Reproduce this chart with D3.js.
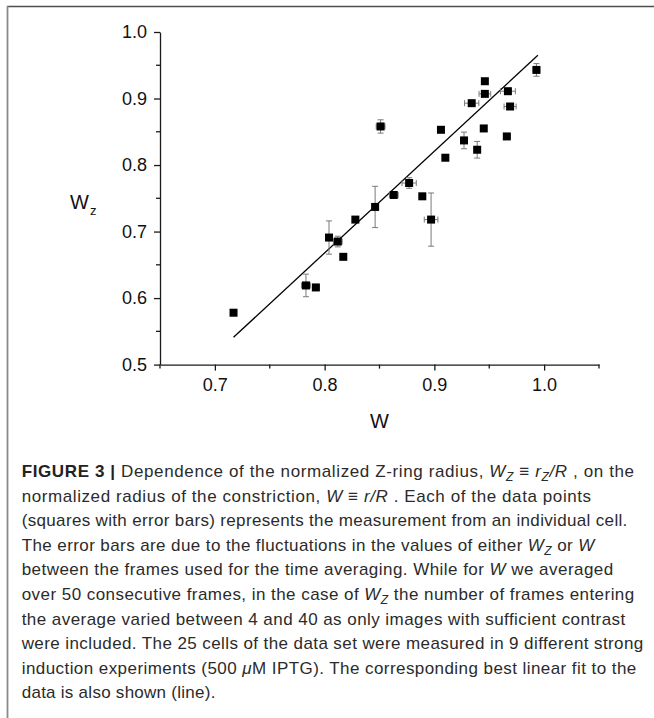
<!DOCTYPE html>
<html>
<head>
<meta charset="utf-8">
<script src="https://cdn.jsdelivr.net/npm/d3@7"></script>
<style>
  body { margin: 0; background: #fff; }
  svg { display: block; }
</style>
</head>
<body>
<div id="chart"></div>
<script>
// data
var w_vals  = [0.717, 0.783, 0.792, 0.804, 0.812, 0.817, 0.828, 0.846, 0.851, 0.863, 0.877, 0.889, 0.897,
               0.906, 0.910, 0.927, 0.934, 0.939, 0.945, 0.946, 0.946, 0.966, 0.967, 0.969, 0.993];
var wz_vals = [0.578, 0.619, 0.616, 0.691, 0.685, 0.662, 0.718, 0.737, 0.858, 0.755, 0.773, 0.753, 0.718,
               0.853, 0.811, 0.837, 0.893, 0.823, 0.855, 0.907, 0.926, 0.843, 0.911, 0.888, 0.943];
var w_err   = [0, 0.004, 0.003, 0.003, 0.004, 0, 0, 0, 0.004, 0.004, 0.0065, 0, 0.0062,
               0, 0, 0.003, 0.0065, 0, 0, 0.0053, 0, 0.003, 0.0068, 0.0055, 0.003];
var wz_err  = [0, 0.017, 0.003, 0.025, 0.008, 0, 0, 0.031, 0.010, 0.003, 0.008, 0, 0.040,
               0, 0, 0.0125, 0.003, 0.0125, 0, 0.003, 0, 0.003, 0.004, 0.003, 0.0095];
var fit_w  = [0.717, 0.9943];
var fit_wz = [0.541, 0.965];

var x_major = [0.7, 0.8, 0.9, 1.0];
var x_minor = [0.65, 0.75, 0.85, 0.95, 1.05];
var y_major = [0.5, 0.6, 0.7, 0.8, 0.9, 1.0];
var y_minor = [0.55, 0.65, 0.75, 0.85, 0.95];

// caption lines: [text, style] pieces  (b bold, i italic, s italic subscript)
var caption = [
  [["FIGURE 3 | ", "b"], ["Dependence of the normalized Z-ring radius, ", ""], ["W", "i"], ["Z", "s"], [" \u2261 ", ""], ["r", "i"], ["Z", "s"], ["/R", "i"], [" , on the", ""]],
  [["normalized radius of the constriction, ", ""], ["W", "i"], [" \u2261 ", ""], ["r/R", "i"], [" . Each of the data points", ""]],
  [["(squares with error bars) represents the measurement from an individual cell.", ""]],
  [["The error bars are due to the fluctuations in the values of either ", ""], ["W", "i"], ["Z", "s"], [" or ", ""], ["W", "i"]],
  [["between the frames used for the time averaging. While for ", ""], ["W", "i"], [" we averaged", ""]],
  [["over 50 consecutive frames, in the case of ", ""], ["W", "i"], ["Z", "s"], [" the number of frames entering", ""]],
  [["the average varied between 4 and 40 as only images with sufficient contrast", ""]],
  [["were included. The 25 cells of the data set were measured in 9 different strong", ""]],
  [["induction experiments (500 ", ""], ["\u03bc", "i"], ["M IPTG). The corresponding best linear fit to the", ""]],
  [["data is also shown (line).", ""]]
];
var caption_widths = [613, 570, 606, 573, 592, 613, 604, 622, 615, 194];

var width = 654;
var height = 718;
var font = "'Liberation Sans', Arial, sans-serif";
var color_axis = "#1a1a1a";
var color_err = "#7a7a7a";
var color_text = "#2b2b2b";

var svg = d3.select("#chart").append("svg")
  .attr("width", width)
  .attr("height", height);

// frame
svg.append("line")
  .attr("x1", 7).attr("x2", width).attr("y1", 6.5).attr("y2", 6.5)
  .style("stroke", "#4d4d4d").style("stroke-width", 1.6);
svg.append("line")
  .attr("x1", 7.5).attr("x2", 7.5).attr("y1", 6).attr("y2", height)
  .style("stroke", "#8a8a8a").style("stroke-width", 1.8);

var x_scale = d3.scaleLinear().domain([0.65, 1.05]).range([160, 599]);
var y_scale = d3.scaleLinear().domain([0.5, 1.0]).range([364.6, 32]);

// axes
var x_axis = svg.append("g")
  .attr("transform", "translate(0," + y_scale(0.5) + ")")
  .call(d3.axisBottom(x_scale).tickValues(x_major).tickSize(6).tickPadding(8).tickSizeOuter(0)
    .tickFormat(d3.format(".1f")));
x_axis.append("g").selectAll("line").data(x_minor).join("line")
  .attr("x1", d => x_scale(d)).attr("x2", d => x_scale(d))
  .attr("y1", 0).attr("y2", 4);

var y_axis = svg.append("g")
  .attr("transform", "translate(" + x_scale(0.65) + ",0)")
  .call(d3.axisLeft(y_scale).tickValues(y_major).tickSize(6).tickPadding(7).tickSizeOuter(0)
    .tickFormat(d3.format(".1f")));
y_axis.append("g").selectAll("line").data(y_minor).join("line")
  .attr("x1", 0).attr("x2", -4)
  .attr("y1", d => y_scale(d)).attr("y2", d => y_scale(d));

svg.selectAll(".domain, .tick line, g line")
  .style("stroke", color_axis)
  .style("stroke-width", 1.3);
svg.selectAll(".tick text")
  .style("font-family", font)
  .style("font-size", "18px")
  .style("fill", "#111");

// axis titles
svg.append("text")
  .attr("x", x_scale(0.85)).attr("y", 428)
  .style("text-anchor", "middle")
  .style("font-family", font).style("font-size", "20px").style("fill", "#111")
  .text("W");

var ylab = svg.append("text")
  .attr("x", 70).attr("y", 209)
  .style("font-family", font).style("font-size", "20px").style("fill", "#111");
ylab.append("tspan").text("W");
ylab.append("tspan").attr("dx", 1).attr("dy", 6).style("font-size", "13px").text("z");

// fit line
svg.append("line")
  .attr("x1", x_scale(fit_w[0])).attr("y1", y_scale(fit_wz[0]))
  .attr("x2", x_scale(fit_w[1])).attr("y2", y_scale(fit_wz[1]))
  .style("stroke", "#000").style("stroke-width", 1.3);

// error bars
var cap = 3;
var pts = w_vals.map((w, i) => ({ w: w, wz: wz_vals[i], ew: w_err[i], ez: wz_err[i] }));
var eb = svg.append("g").style("stroke", color_err).style("stroke-width", 1).style("fill", "none");
pts.forEach(function(d) {
  var cx = x_scale(d.w), cy = y_scale(d.wz);
  if (d.ez > 0) {
    var y1 = y_scale(d.wz + d.ez), y2 = y_scale(d.wz - d.ez);
    eb.append("line").attr("x1", cx).attr("x2", cx).attr("y1", y1).attr("y2", y2);
    eb.append("line").attr("x1", cx - cap).attr("x2", cx + cap).attr("y1", y1).attr("y2", y1);
    eb.append("line").attr("x1", cx - cap).attr("x2", cx + cap).attr("y1", y2).attr("y2", y2);
  }
  if (d.ew > 0) {
    var x1 = x_scale(d.w - d.ew), x2 = x_scale(d.w + d.ew);
    eb.append("line").attr("x1", x1).attr("x2", x2).attr("y1", cy).attr("y2", cy);
    eb.append("line").attr("x1", x1).attr("x2", x1).attr("y1", cy - cap).attr("y2", cy + cap);
    eb.append("line").attr("x1", x2).attr("x2", x2).attr("y1", cy - cap).attr("y2", cy + cap);
  }
});

// squares
var sq = 8;
svg.append("g").selectAll("rect").data(pts).join("rect")
  .attr("x", d => x_scale(d.w) - sq / 2)
  .attr("y", d => y_scale(d.wz) - sq / 2)
  .attr("width", sq).attr("height", sq)
  .style("fill", "#000");

// caption
var cap_x = 21.7, cap_y = 477, cap_lh = 24.6;
caption.forEach(function(line, i) {
  var t = svg.append("text")
    .attr("x", cap_x).attr("y", cap_y + i * cap_lh)
    .style("font-family", font).style("font-size", "17px").style("fill", color_text);
  var shifted = false;
  line.forEach(function(p) {
    var s = t.append("tspan").text(p[0]);
    if (p[1] == "b") s.style("font-weight", "bold").style("fill", "#222");
    if (p[1] == "i") s.style("font-style", "italic");
    if (p[1] == "s") {
      s.style("font-style", "italic").style("font-size", "12px").attr("dy", 4);
      shifted = true;
    } else if (shifted) {
      s.attr("dy", -4);
      shifted = false;
    }
  });
  // squeeze letters so the line fills the same width as in the figure
  var n = t.text().length;
  var w = t.node().getComputedTextLength();
  t.style("letter-spacing", ((caption_widths[i] - w) / n) + "px");
});
</script>
</body>
</html>
